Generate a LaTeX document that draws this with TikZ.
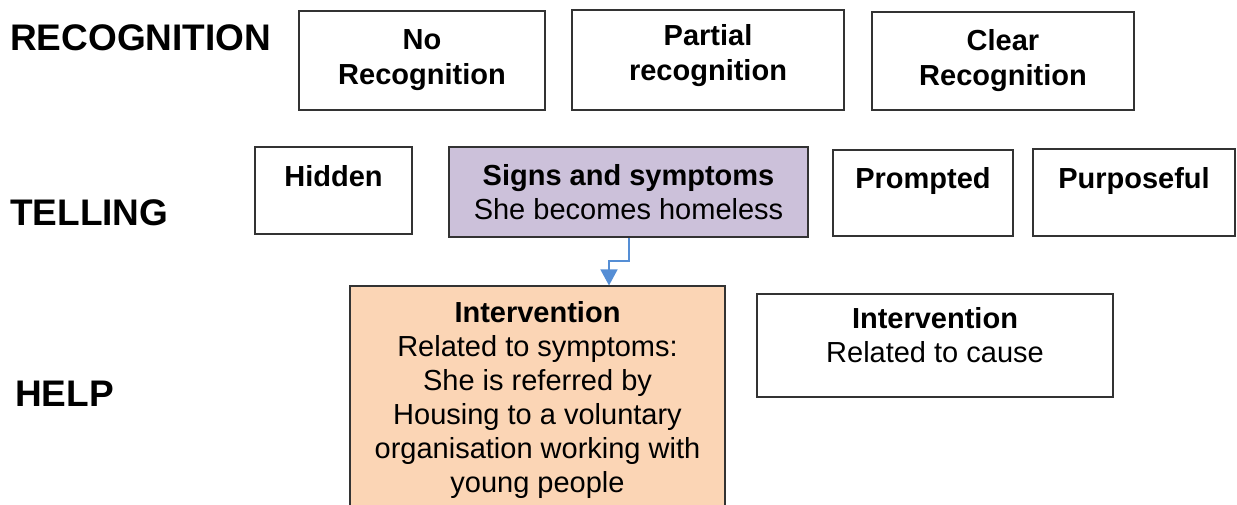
\documentclass[tikz,border=0pt]{standalone}
\usepackage{fontspec}
\setmainfont{Liberation Sans}
\usetikzlibrary{arrows.meta}
\definecolor{purplefill}{RGB}{204,193,218}
\definecolor{orangefill}{RGB}{251,213,181}
\definecolor{arrowblue}{RGB}{85,142,213}
\tikzset{
  box/.style={draw=black!80, line width=1.1pt, fill=white, inner sep=0pt, align=center,
    font=\fontsize{29}{35}\selectfont, text=black},
  rowlabel/.style={anchor=west, inner sep=0pt, font=\fontsize{37}{40}\selectfont\bfseries},
  conn/.style={draw=arrowblue, line width=1.5pt, -{Triangle[length=16pt,width=17pt]}}
}
\newcommand{\boxat}[6]{% name, x1, y1, x2, y2, extra
  \node[box, #6, minimum width={(#4)-(#2)}, minimum height={(#5)-(#3)}] (#1) at ({((#2)+(#4))/2},{((#3)+(#5))/2})}
\begin{document}
\begin{tikzpicture}[x=1pt,y=-1pt]
\useasboundingbox (0,0) rectangle (1237,505);
% row labels
\node[rowlabel] (recog) at (10,38) {RECOGNITION};
\node[rowlabel] (tell) at (10,213) {TELLING};
\node[rowlabel] (help) at (15,394) {HELP};
% recognition row
\boxat{norec}{299}{11}{545}{110}{} {\textbf{No}\\\textbf{Recognition}};
\boxat{partrec}{572}{10}{844}{110}{} {\textbf{Partial}\\\textbf{recognition}\\[-31pt]\strut};
\boxat{clearrec}{872}{12}{1134}{110}{} {\textbf{Clear}\\\textbf{Recognition}};
% telling row
\boxat{hidden}{255}{147}{412}{234}{} {\textbf{Hidden}\\[-16pt]\strut};
\boxat{signs}{449}{147}{808}{237}{fill=purplefill} {\textbf{Signs and symptoms}\\[-1pt]She becomes homeless};
\boxat{prompted}{833}{150}{1013}{236}{} {\textbf{Prompted}\\[-16pt]\strut};
\boxat{purposeful}{1033}{149}{1235}{236}{} {\textbf{Purposeful}\\[-16pt]\strut};
% help row
\boxat{intsym}{350}{286}{725}{514}{fill=orangefill, font=\fontsize{29}{34}\selectfont} {\textbf{Intervention}\\Related to symptoms:\\She is referred by\\Housing to a voluntary\\organisation working with\\young people};
\boxat{intcause}{757}{294}{1113}{397}{} {\textbf{Intervention}\\[-1pt]Related to cause\\[-25pt]\strut};
% connector
\coordinate (bend1) at (629,261);
\coordinate (bend2) at (609,261);
\draw[conn] (signs.south -| bend1) -- (bend1) -- (bend2) -- (intsym.north -| bend2);
\end{tikzpicture}
\end{document}
